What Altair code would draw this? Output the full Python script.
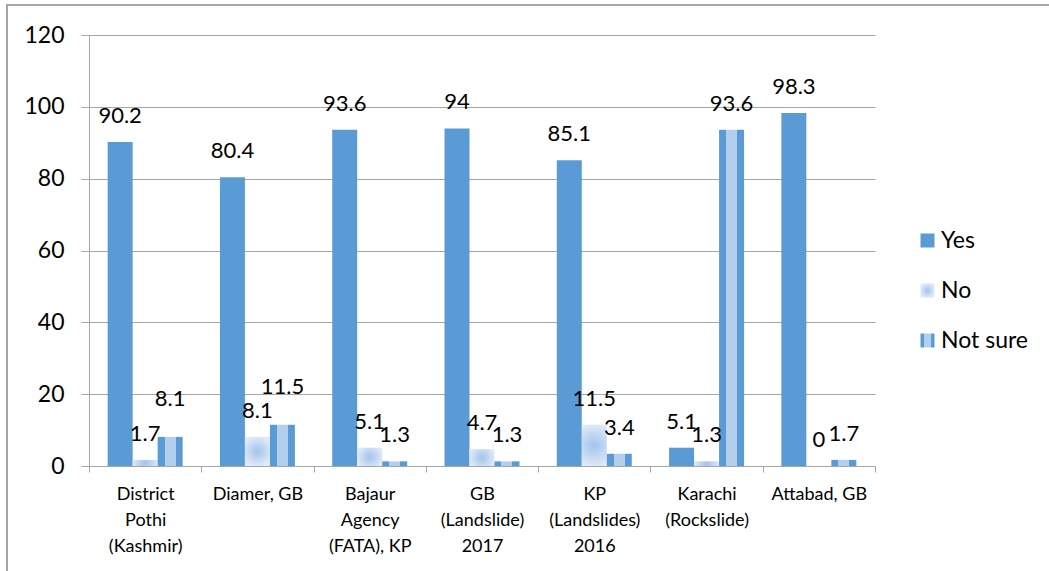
import altair as alt
import pandas as pd

# Survey responses per site (percent)
categories = [
    "District\nPothi\n(Kashmir)",
    "Diamer, GB",
    "Bajaur\nAgency\n(FATA), KP",
    "GB\n(Landslide)\n2017",
    "KP\n(Landslides)\n2016",
    "Karachi\n(Rockslide)",
    "Attabad, GB",
]
series = ["Yes", "No", "Not sure"]
yes_vals = [90.2, 80.4, 93.6, 94, 85.1, 5.1, 98.3]
no_vals = [1.7, 8.1, 5.1, 4.7, 11.5, 1.3, 0]
not_sure_vals = [8.1, 11.5, 1.3, 1.3, 3.4, 93.6, 1.7]
y_ticks = [0, 20, 40, 60, 80, 100, 120]

rows = []
for i, cat in enumerate(categories):
    for name, vals in zip(series, [yes_vals, no_vals, not_sure_vals]):
        rows.append({"site": cat, "answer": name, "pct": vals[i]})
df = pd.DataFrame(rows)

FONT = "Lato"
GREY = "#a6a6a6"
BLUE = "#5b9bd5"

# Fills: solid, soft radial shading, and a banded texture
no_fill = (
    "{gradient: 'radial', x1: 0.5, y1: 0.5, r1: 0, x2: 0.5, y2: 0.5, r2: 0.55, "
    "stops: [{offset: 0, color: '#a3c3eb'}, {offset: 1, color: '#e2ecf9'}]}"
)
not_sure_fill = (
    "{gradient: 'linear', x1: 0, y1: 0, x2: 1, y2: 0, stops: ["
    "{offset: 0, color: '#5b9bd5'}, {offset: 0.28, color: '#5b9bd5'}, "
    "{offset: 0.28, color: '#b3cfee'}, {offset: 0.72, color: '#b3cfee'}, "
    "{offset: 0.72, color: '#5b9bd5'}, {offset: 1, color: '#5b9bd5'}]}"
)

color_scale = alt.Scale(
    domain=series,
    range=[BLUE, alt.ExprRef(expr=no_fill), alt.ExprRef(expr=not_sure_fill)],
)

x_enc = alt.X(
    "site:N",
    sort=categories,
    scale=alt.Scale(paddingInner=0, paddingOuter=0),
    axis=alt.Axis(
        title=None,
        labelAngle=0,
        labelExpr="split(datum.label, '\\n')",
        labelFont=FONT,
        labelFontSize=18,
        labelLineHeight=26,
        labelColor="#000000",
        labelPadding=13,
        tickBand="extent",
        tickSize=6,
        tickColor=GREY,
        domainColor=GREY,
        grid=False,
    ),
)
xoff_enc = alt.XOffset(
    "answer:N",
    sort=series,
    scale=alt.Scale(domain=series, paddingInner=0, paddingOuter=0.746),
)
y_enc = alt.Y(
    "pct:Q",
    scale=alt.Scale(domain=[0, 120], nice=False),
    axis=alt.Axis(
        title=None,
        values=y_ticks,
        labelFont=FONT,
        labelFontSize=23,
        labelColor="#000000",
        labelPadding=17,
        tickSize=8,
        tickColor=GREY,
        domainColor=GREY,
        gridColor=GREY,
        gridWidth=1,
    ),
)

bars = alt.Chart(df).mark_bar(strokeWidth=0).encode(
    x=x_enc,
    xOffset=xoff_enc,
    y=y_enc,
    color=alt.Color(
        "answer:N",
        sort=series,
        scale=color_scale,
        legend=alt.Legend(
            title=None,
            orient="none",
            legendX=827,
            legendY=194,
            symbolType="square",
            symbolSize=196,
            symbolStrokeWidth=0,
            labelFont=FONT,
            labelFontSize=23,
            labelColor="#000000",
            labelOffset=2,
            rowPadding=26,
            padding=0,
        ),
    ),
)

# Value labels; a "Not sure" label that sits just above the "No" label
# in the same group is lifted a little so the two stay readable.
labels = (
    alt.Chart(df)
    .transform_calculate(no_part="datum.answer == 'No' ? datum.pct : 0")
    .transform_joinaggregate(no_pct="max(no_part)", groupby=["site"])
    .transform_calculate(
        gap="datum.pct - datum.no_pct",
        label_y="datum.answer == 'Not sure' && datum.gap > 3 && datum.gap < 8"
        " ? datum.pct + 3.3 : datum.pct",
    )
    .mark_text(font=FONT, fontSize=22, color="#000000", dy=-26, baseline="middle")
    .encode(
        x=alt.X("site:N", sort=categories),
        xOffset=alt.XOffset("answer:N", sort=series),
        y="label_y:Q",
        text="pct:Q",
    )
)

frame = alt.Chart(pd.DataFrame({"k": [0]})).mark_rect(
    fill=None, stroke=GREY, strokeWidth=2
).encode(
    x=alt.value(-82),
    x2=alt.value(1000),
    y=alt.value(-30),
    y2=alt.value(600),
)

chart = (
    alt.layer(frame, bars, labels)
    .properties(
        width=786,
        height=431,
        padding={"left": 89, "top": 35, "right": 174, "bottom": 105},
        autosize=alt.AutoSizeParams(type="none"),
        background="#ffffff",
    )
    .configure_view(stroke=None)
)

chart.save("out.html", embed_options={"renderer": "svg", "actions": False})
